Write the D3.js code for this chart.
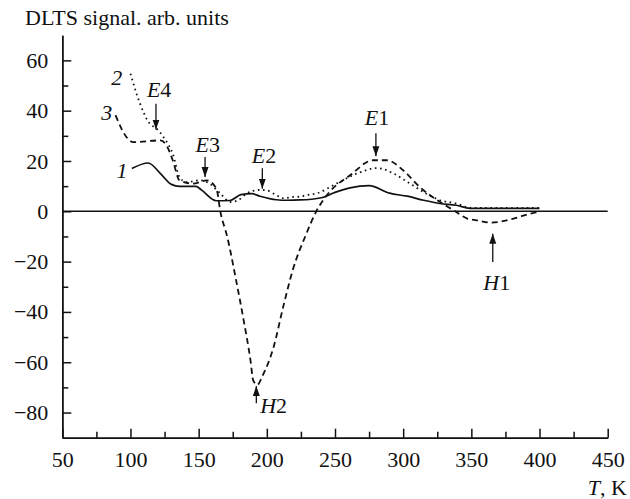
<!DOCTYPE html>
<html>
<head>
<meta charset="utf-8">
<script src="https://cdn.jsdelivr.net/npm/d3@7"></script>
<style>
  body { margin: 0; background: #fff; }
  text { font-family: "Liberation Serif", "Times New Roman", serif; fill: #111; }
</style>
</head>
<body>
<div id="chart"></div>
<script>
// curve 1 (solid)
const t1 = [101, 113, 122, 130, 136, 148, 152, 163, 173, 181, 189, 195, 207, 215, 224, 240, 250, 261, 275, 290, 303, 315, 327, 339, 349, 400];
const v1 = [17, 19.2, 15, 10.7, 9.9, 9.9, 8.5, 4.2, 4.3, 6.6, 7, 6, 4.6, 4.4, 4.5, 5.4, 7.5, 9.3, 10.2, 7.2, 6, 4.4, 3.1, 2.4, 1.2, 1.2];
// curve 2 (dotted)
const t2 = [100, 107, 114, 119, 125, 131, 136, 141, 151, 158, 166, 173, 179, 185, 195, 200, 207, 212, 219, 224, 229, 237, 251, 266, 281, 293, 305, 317, 327, 339, 349, 400];
const v2 = [54.7, 42.8, 34.9, 32.9, 28.9, 22.9, 13.6, 11.6, 12.3, 11, 7, 3.7, 4.4, 7, 8.5, 8.3, 6.4, 5.2, 5.7, 5.8, 6.4, 7.2, 11, 15, 17.2, 15, 11, 7, 4.4, 3.1, 1.4, 1.3];
// curve 3 (dashed)
const t3 = [89, 98, 102, 122, 127, 131, 136, 146, 156, 163, 166, 171, 177, 183, 188, 190, 193, 197, 205, 212, 219, 229, 236, 246, 261, 278, 288, 300, 312, 325, 337, 347, 354, 364, 381, 395, 399];
const v3 = [38.2, 28.9, 27.5, 28.2, 25.6, 20.3, 12.3, 11, 12.3, 9, -0.3, -10.2, -26.1, -43.3, -59.2, -67.2, -69, -65.2, -53.9, -38, -23.4, -8.9, -0.3, 7.7, 14.3, 20.3, 20.3, 16.3, 9.7, 4.4, 0.4, -2.9, -3.6, -4.5, -2.9, -0.7, -0.3];

const xTicks = [50, 100, 150, 200, 250, 300, 350, 400, 450];
const yTicks = [-80, -60, -40, -20, 0, 20, 40, 60];

// arrows: [name, number, T, tip value, tail value, label T, label value]
const peaks = [
    ["E", "4", 118.7, 32.5, 42.8, 121, 45.4],
    ["E", "3", 154.7, 13.6, 21.6, 156.6, 23.6],
    ["E", "2", 196.7, 9.0, 17.1, 198, 19.1],
    ["E", "1", 280, 21.9, 31, 280.8, 34.4],
    ["H", "2", 192.3, -69.4, -76.3, 205, -80.3],
    ["H", "1", 365.7, -8.9, -20.2, 368.6, -31.4]
];
// curve numbers: [text, T, value]
const curveLabels = [["1", 93.8, 13.1], ["2", 89.9, 50.1], ["3", 82.6, 36.2]];

const width = 630, height = 499;

const x = d3.scaleLinear().domain([50, 450]).range([62.3, 607.7]);
const y = d3.scaleLinear().domain([-90, 70]).range([437.7, 35.2]);

const svg = d3.select("#chart")
    .append("svg")
    .attr("width", width)
    .attr("height", height);

// axes
const xAxis = svg.append("g")
    .attr("transform", "translate(0," + y(-90) + ")")
    .call(d3.axisBottom(x).tickValues(xTicks).tickSize(-9).tickSizeOuter(0).tickPadding(14).tickFormat(d3.format("d")));
svg.append("g")
    .attr("transform", "translate(0," + y(-90) + ")")
    .call(d3.axisBottom(x).tickValues(d3.range(75, 450, 50)).tickSize(-6).tickSizeOuter(0).tickFormat(""));

const yAxis = svg.append("g")
    .attr("transform", "translate(" + x(50) + ",0)")
    .call(d3.axisLeft(y).tickValues(yTicks).tickSize(-9).tickSizeOuter(0).tickPadding(14));
svg.append("g")
    .attr("transform", "translate(" + x(50) + ",0)")
    .call(d3.axisLeft(y).tickValues(d3.range(-70, 70, 20)).tickSize(-6).tickSizeOuter(0).tickFormat(""));

svg.selectAll(".domain, .tick line").attr("stroke", "#111").attr("stroke-width", 1.5);
svg.selectAll(".tick text").attr("font-size", 22).attr("font-family", "Liberation Serif").attr("fill", "#111");

// zero line
svg.append("line")
    .attr("x1", x(50)).attr("x2", x(450))
    .attr("y1", y(0)).attr("y2", y(0))
    .attr("stroke", "#111").attr("stroke-width", 1.5);

// curves
const line = d3.line()
    .x(d => x(d[0]))
    .y(d => y(d[1]))
    .curve(d3.curveMonotoneX);

const series = [
    { t: t1, v: v1, dash: null, w: 1.7 },
    { t: t2, v: v2, dash: "1.6,3.6", w: 1.8 },
    { t: t3, v: v3, dash: "6,4", w: 1.8 }
];

series.forEach(s => {
    svg.append("path")
        .datum(s.t.map((t, i) => [t, s.v[i]]))
        .attr("d", line)
        .attr("fill", "none")
        .attr("stroke", "#111")
        .attr("stroke-width", s.w)
        .attr("stroke-dasharray", s.dash);
});

// arrows
svg.append("defs").append("marker")
    .attr("id", "head")
    .attr("viewBox", "0 0 10 10")
    .attr("refX", 10).attr("refY", 5)
    .attr("markerWidth", 10).attr("markerHeight", 10)
    .attr("markerUnits", "userSpaceOnUse")
    .attr("orient", "auto")
    .append("path")
    .attr("d", "M0,1.5L10,5L0,8.5Z")
    .attr("fill", "#111");

svg.selectAll(".arrow")
    .data(peaks)
    .enter()
    .append("line")
    .attr("class", "arrow")
    .attr("x1", d => x(d[2])).attr("x2", d => x(d[2]))
    .attr("y1", d => y(d[4])).attr("y2", d => y(d[3]))
    .attr("stroke", "#111")
    .attr("stroke-width", 1.3)
    .attr("marker-end", "url(#head)");

const lab = svg.selectAll(".peak")
    .data(peaks)
    .enter()
    .append("text")
    .attr("class", "peak")
    .attr("x", d => x(d[5]))
    .attr("y", d => y(d[6]))
    .attr("text-anchor", "middle")
    .attr("font-size", 22);
lab.append("tspan").attr("font-style", "italic").text(d => d[0]);
lab.append("tspan").text(d => d[1]);

svg.selectAll(".clab")
    .data(curveLabels)
    .enter()
    .append("text")
    .attr("x", d => x(d[1]))
    .attr("y", d => y(d[2]))
    .attr("text-anchor", "middle")
    .attr("font-size", 22)
    .attr("font-style", "italic")
    .text(d => d[0]);

// titles
svg.append("text")
    .attr("x", 25).attr("y", 25)
    .attr("font-size", 22)
    .text("DLTS signal. arb. units");

const xt = svg.append("text")
    .attr("x", 627).attr("y", 495)
    .attr("text-anchor", "end")
    .attr("font-size", 22);
xt.append("tspan").attr("font-style", "italic").text("T");
xt.append("tspan").text(", K");
</script>
</body>
</html>
